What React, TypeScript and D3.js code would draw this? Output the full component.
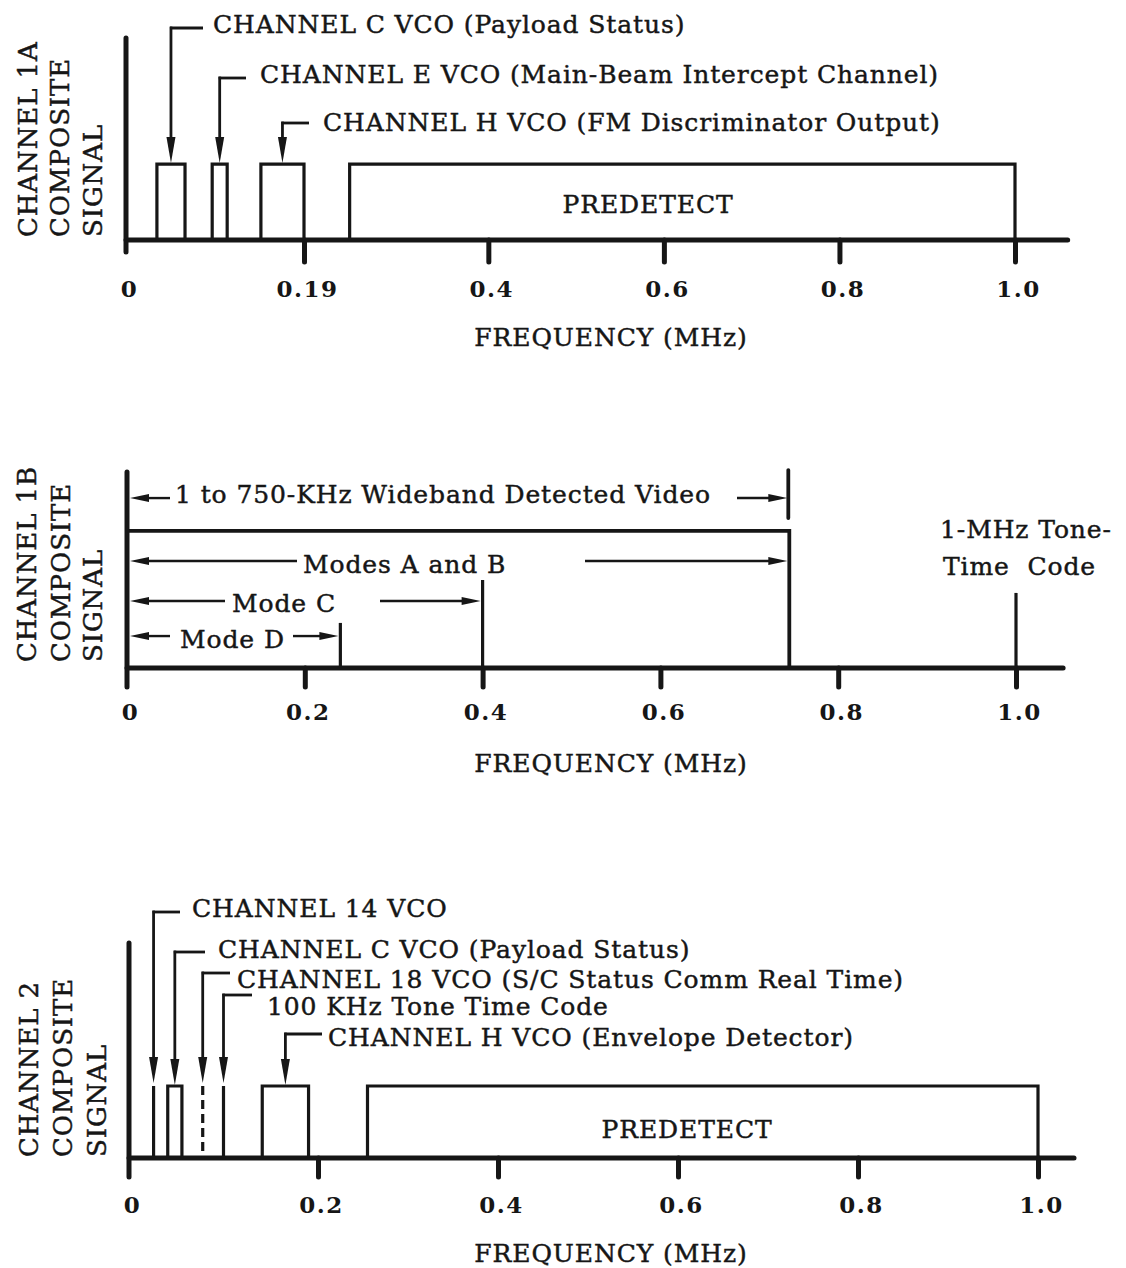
import React, { useEffect, useRef } from 'react';
import * as d3 from 'd3';

// ---- chart values (frequencies in MHz, levels relative to the signal axis) ----
const ticks1A = [0, 0.19, 0.4, 0.6, 0.8, 1.0];
const tickLabels1A = ['0', '0.19', '0.4', '0.6', '0.8', '1.0'];
const ticks = [0, 0.2, 0.4, 0.6, 0.8, 1.0];
const tickLabels = ['0', '0.2', '0.4', '0.6', '0.8', '1.0'];

// Channel 1A
const bands1A = [
  { label: 'CHANNEL C VCO (Payload Status)', lo: 0.033, hi: 0.063 },
  { label: 'CHANNEL E VCO (Main-Beam Intercept Channel)', lo: 0.092, hi: 0.108 },
  { label: 'CHANNEL H VCO (FM Discriminator Output)', lo: 0.144, hi: 0.19 },
];
const predetect1A = { label: 'PREDETECT', lo: 0.242, hi: 1.0 };
const level1A = 0.376;

// Channel 1B
const wideband1B = { hi: 0.745, level: 0.7, markTop: 1.01, markBottom: 0.765 };
const spans1B = [
  { label: '1 to 750-KHz Wideband Detected Video', hi: 0.745, level: 0.867 },
  { label: 'Modes A and B', hi: 0.745, level: 0.546 },
  { label: 'Mode C', hi: 0.4, level: 0.342 },
  { label: 'Mode D', hi: 0.24, level: 0.163 },
];
const cutoffs1B = [
  { freq: 0.4, level: 0.449 },
  { freq: 0.24, level: 0.23 },
  { freq: 1.0, level: 0.383 },
];
const toneLabel1B = ['1-MHz Tone-', 'Time  Code'];

// Channel 2
const marks2 = [
  { label: 'CHANNEL 14 VCO', kind: 'line', lo: 0.026, hi: 0.026 },
  { label: 'CHANNEL C VCO (Payload Status)', kind: 'band', lo: 0.041, hi: 0.056 },
  { label: 'CHANNEL 18 VCO (S/C Status Comm Real Time)', kind: 'dashed', lo: 0.078, hi: 0.078 },
  { label: '100 KHz Tone Time Code', kind: 'line', lo: 0.1, hi: 0.1 },
  { label: 'CHANNEL H VCO (Envelope Detector)', kind: 'band', lo: 0.141, hi: 0.19 },
];
const predetect2 = { label: 'PREDETECT', lo: 0.255, hi: 1.0 };
const level2 = 0.335;

// ---- layout ----
const W = 1126;
const H = 1268;
const FONT = "'DejaVu Serif', 'Liberation Serif', serif";
const INK = '#161616';

const panels = [
  {
    domain: [0, 0.19, 1], range: [126, 304, 1015], end: 1.06,
    base: 240, top: 38, drop: 12, tickLen: 22, tickLabelY: 297, titleY: 346,
    yTitle: ['CHANNEL 1A', 'COMPOSITE', 'SIGNAL'], yTitleX: [37, 69, 102], yTitleBottom: 237,
    tickValues: ticks1A, tickText: tickLabels1A,
  },
  {
    domain: [0, 1], range: [127, 1016], end: 1.053,
    base: 668, top: 472, drop: 19, tickLen: 19, tickLabelY: 720, titleY: 772,
    yTitle: ['CHANNEL 1B', 'COMPOSITE', 'SIGNAL'], yTitleX: [36, 70, 102], yTitleBottom: 662,
    tickValues: ticks, tickText: tickLabels,
  },
  {
    domain: [0, 0.2, 1], range: [129, 318, 1038], end: 1.04,
    base: 1158, top: 943, drop: 19, tickLen: 19, tickLabelY: 1213, titleY: 1262,
    yTitle: ['CHANNEL 2', 'COMPOSITE', 'SIGNAL'], yTitleX: [38, 72, 106], yTitleBottom: 1157,
    tickValues: ticks, tickText: tickLabels,
  },
];

// leader callouts: text start, text baseline, elbow y, elbow end x
const leaders1A = [
  { tx: 213, ty: 33, ey: 28, ex: 203 },
  { tx: 260, ty: 83, ey: 78, ex: 246 },
  { tx: 323, ty: 131, ey: 123, ex: 309 },
];
const leaders2 = [
  { tx: 192, ty: 917, ey: 912, ex: 180 },
  { tx: 218, ty: 958, ey: 952, ex: 205 },
  { tx: 237, ty: 988, ey: 973, ex: 230 },
  { tx: 267, ty: 1015, ey: 995, ex: 252 },
  { tx: 328, ty: 1046, ey: 1034, ex: 322 },
];
// 1B span arrows: left arrow end, text start, text baseline offset, right arrow start
const spanLayout1B = [
  { leftEnd: 170, tx: 175, dy: 5, rightStart: 737 },
  { leftEnd: 297, tx: 303, dy: 12, rightStart: 585 },
  { leftEnd: 225, tx: 232, dy: 11, rightStart: 380 },
  { leftEnd: 170, tx: 180, dy: 12, rightStart: 293 },
];

const App = () => {
  const svgRef = useRef<SVGSVGElement>(null);

  useEffect(() => {
    const svg = d3.select(svgRef.current);
    svg.selectAll('*').remove();

    const text = (x: number, y: number, s: string, size = 25) =>
      svg
        .append('text')
        .attr('x', x)
        .attr('y', y)
        .attr('fill', INK)
        .attr('stroke', INK)
        .attr('stroke-width', 0.45)
        .attr('letter-spacing', 0.9)
        .style('font-family', FONT)
        .style('font-size', `${size}px`)
        .style('white-space', 'pre')
        .text(s);

    const vArrow = (x: number, y1: number, tip: number) => {
      const head = 26;
      svg.append('line').attr('x1', x).attr('x2', x).attr('y1', y1).attr('y2', tip - head + 2)
        .attr('stroke', INK).attr('stroke-width', 2.8);
      svg.append('path')
        .attr('d', `M${x - 4.5},${tip - head} L${x + 4.5},${tip - head} L${x},${tip} Z`)
        .attr('fill', INK);
    };

    const hArrow = (x1: number, x2: number, y: number) => {
      const head = 19;
      const dir = x2 > x1 ? 1 : -1;
      svg.append('line').attr('x1', x1).attr('x2', x2 - dir * (head - 2)).attr('y1', y).attr('y2', y)
        .attr('stroke', INK).attr('stroke-width', 2.4);
      svg.append('path')
        .attr('d', `M${x2 - dir * head},${y - 4} L${x2 - dir * head},${y + 4} L${x2},${y} Z`)
        .attr('fill', INK);
    };

    const scales = panels.map((p) => {
      const x = d3.scaleLinear().domain(p.domain).range(p.range);
      const y = d3.scaleLinear().domain([0, 1]).range([p.base, p.top]);

      // frequency axis ticks
      const axis = d3
        .axisBottom(x)
        .tickValues(p.tickValues)
        .tickFormat((d, i) => p.tickText[i])
        .tickSize(p.tickLen)
        .tickPadding(0);
      const g = svg.append('g').attr('transform', `translate(0,${p.base})`).call(axis);
      g.select('.domain').remove();
      g.selectAll('.tick line')
        .attr('stroke', INK)
        .attr('stroke-width', 5)
        .attr('stroke-linecap', 'round')
        .attr('opacity', (d: any) => (d === 0 ? 0 : 1));
      g.selectAll('.tick text')
        .attr('y', p.tickLabelY - p.base)
        .attr('dy', 0)
        .attr('dx', 3)
        .attr('fill', INK)
        .attr('letter-spacing', 1.5)
        .style('font-family', FONT)
        .style('font-size', '23px')
        .style('font-weight', 'bold');

      // base line and signal axis
      svg.append('line')
        .attr('x1', x(0)).attr('x2', x(p.end)).attr('y1', p.base).attr('y2', p.base)
        .attr('stroke', INK).attr('stroke-width', 5).attr('stroke-linecap', 'round');
      svg.append('line')
        .attr('x1', x(0)).attr('x2', x(0)).attr('y1', y(1)).attr('y2', p.base + p.drop)
        .attr('stroke', INK).attr('stroke-width', 5).attr('stroke-linecap', 'round');

      text(611, p.titleY, 'FREQUENCY (MHz)').attr('text-anchor', 'middle');
      p.yTitle.forEach((t, i) => {
        text(0, 0, t, 26).attr('transform', `translate(${p.yTitleX[i]},${p.yTitleBottom}) rotate(-90)`);
      });
      return { x, y };
    });

    const band = (x: any, y: any, lo: number, hi: number, level: number) =>
      svg.append('path')
        .attr('d', `M${x(lo)},${y(0)} V${y(level)} H${x(hi)} V${y(0)}`)
        .attr('fill', 'none').attr('stroke', INK).attr('stroke-width', 3.2);

    // ---- Channel 1A ----
    {
      const { x, y } = scales[0];
      bands1A.forEach((b, i) => {
        band(x, y, b.lo, b.hi, level1A);
        const L = leaders1A[i];
        const cx = x((b.lo + b.hi) / 2);
        svg.append('line').attr('x1', L.ex).attr('x2', cx - 1).attr('y1', L.ey).attr('y2', L.ey)
          .attr('stroke', INK).attr('stroke-width', 2.8);
        vArrow(cx, L.ey - 1.4, y(level1A) - 1);
        text(L.tx, L.ty, b.label);
      });
      band(x, y, predetect1A.lo, predetect1A.hi, level1A);
      text(648, 213, predetect1A.label).attr('text-anchor', 'middle');
    }

    // ---- Channel 1B ----
    {
      const { x, y } = scales[1];
      svg.append('path')
        .attr('d', `M${x(0)},${y(wideband1B.level)} H${x(wideband1B.hi)} V${y(0)}`)
        .attr('fill', 'none').attr('stroke', INK).attr('stroke-width', 3.8);
      svg.append('line')
        .attr('x1', x(wideband1B.hi) - 1).attr('x2', x(wideband1B.hi) - 1)
        .attr('y1', y(wideband1B.markTop)).attr('y2', y(wideband1B.markBottom))
        .attr('stroke', INK).attr('stroke-width', 3.8).attr('stroke-linecap', 'round');
      cutoffs1B.forEach((c) => {
        svg.append('line')
          .attr('x1', x(c.freq)).attr('x2', x(c.freq)).attr('y1', y(c.level)).attr('y2', y(0))
          .attr('stroke', INK).attr('stroke-width', 3.2);
      });
      spans1B.forEach((s, i) => {
        const L = spanLayout1B[i];
        const yy = y(s.level);
        hArrow(L.leftEnd, x(0) + 3, yy);
        hArrow(L.rightStart, x(s.hi) - 2, yy);
        text(L.tx, yy + L.dy, s.label);
      });
      text(940, 538, toneLabel1B[0]);
      text(943, 575, toneLabel1B[1]);
    }

    // ---- Channel 2 ----
    {
      const { x, y } = scales[2];
      marks2.forEach((m, i) => {
        if (m.kind === 'band') {
          band(x, y, m.lo, m.hi, level2);
        } else {
          svg.append('line')
            .attr('x1', x(m.lo)).attr('x2', x(m.lo)).attr('y1', y(level2)).attr('y2', y(0))
            .attr('stroke', INK).attr('stroke-width', 3.2)
            .attr('stroke-dasharray', m.kind === 'dashed' ? '9 5' : null);
        }
        const L = leaders2[i];
        const cx = x((m.lo + m.hi) / 2);
        svg.append('line').attr('x1', L.ex).attr('x2', cx - 1).attr('y1', L.ey).attr('y2', L.ey)
          .attr('stroke', INK).attr('stroke-width', 2.8);
        vArrow(cx, L.ey - 1.4, y(level2) - (m.kind === 'band' ? 1 : 3));
        text(L.tx, L.ty, m.label);
      });
      band(x, y, predetect2.lo, predetect2.hi, level2);
      text(687, 1138, predetect2.label).attr('text-anchor', 'middle');
    }
  }, []);

  return (
    <svg
      ref={svgRef}
      width={W}
      height={H}
      style={{ position: 'absolute', left: 0, top: 0, background: '#fff' }}
    />
  );
};

export default App;
